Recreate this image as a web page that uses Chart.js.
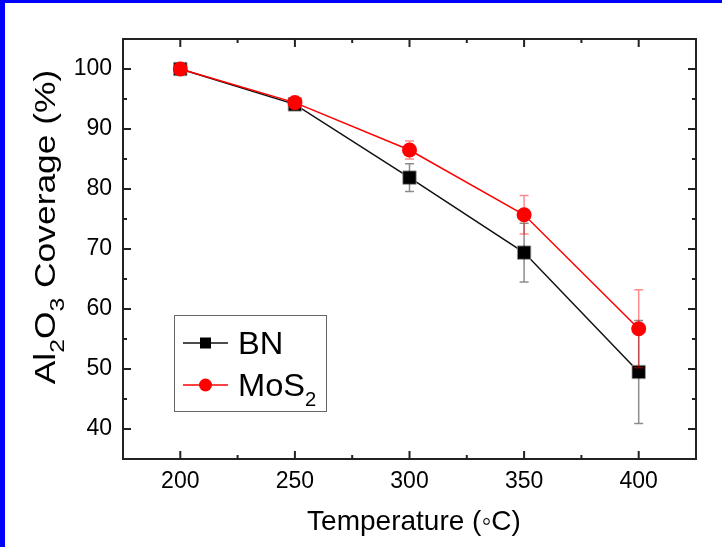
<!DOCTYPE html>
<html>
<head>
<meta charset="utf-8">
<script src="https://cdn.jsdelivr.net/npm/chart.js@4"></script>
<style>
  html, body { margin: 0; padding: 0; background: #fff; }
  #wrap { width: 722px; height: 547px; }
</style>
</head>
<body>
<div id="wrap"><canvas id="chart" width="722" height="547"></canvas></div>
<script>
// ================= DATA =================
const temps = [200, 250, 300, 350, 400];
const bnValues = [100, 94.1, 81.9, 69.4, 49.5];
const bnErrors = [0.3, 0.4, 2.3, 4.9, 8.6];
const mosValues = [100, 94.4, 86.5, 75.7, 56.7];
const mosErrors = [0.3, 0.4, 1.5, 3.2, 6.5];
const xTicks = [200, 250, 300, 350, 400];
const yTicks = [40, 50, 60, 70, 80, 90, 100];

const FONT = "'Liberation Sans', Arial, sans-serif";

// ================= HELPERS =================
// draw text pieces with optional subscripts, starting at (x, y) baseline
function drawRich(ctx, parts, x, y, size, sx, subScale) {
  const ss = subScale || 0.62;
  let cx = x;
  parts.forEach(p => {
    const s = p.sub ? size * ss : size;
    ctx.font = s + "px " + FONT;
    const dy = p.sub ? size * 0.3 : 0;
    ctx.save();
    ctx.translate(cx, y + dy);
    ctx.scale(sx, 1);
    ctx.fillText(p.t, 0, 0);
    ctx.restore();
    cx += ctx.measureText(p.t).width * sx;
  });
  return cx - x;
}
function richWidth(ctx, parts, size, sx, subScale) {
  const ss = subScale || 0.62;
  let w = 0;
  parts.forEach(p => {
    ctx.font = (p.sub ? size * ss : size) + "px " + FONT;
    w += ctx.measureText(p.t).width * sx;
  });
  return w;
}

// ================= ERROR BARS =================
const errorBars = {
  id: "errorBars",
  afterDatasetDraw(chart, args) {
    const ds = chart.data.datasets[args.index];
    const y = chart.scales.y;
    const ctx = chart.ctx;
    ctx.save();
    ctx.strokeStyle = ds.errorColor;
    ctx.lineWidth = 1.5;
    args.meta.data.forEach((pt, i) => {
      const v = ds.data[i].y;
      const e = ds.errors[i];
      const top = y.getPixelForValue(v + e);
      const bot = y.getPixelForValue(v - e);
      ctx.beginPath();
      ctx.moveTo(pt.x, top); ctx.lineTo(pt.x, bot);
      ctx.moveTo(pt.x - 4.5, top); ctx.lineTo(pt.x + 4.5, top);
      ctx.moveTo(pt.x - 4.5, bot); ctx.lineTo(pt.x + 4.5, bot);
      ctx.stroke();
    });
    ctx.restore();
  }
};

// ================= FRAME, TITLES, LEGEND =================
const frame = {
  id: "frame",
  beforeDraw(chart) {
    const ctx = chart.ctx;
    ctx.save();
    ctx.fillStyle = "#fff";
    ctx.fillRect(0, 0, chart.width, chart.height);
    ctx.fillStyle = "#0000ff";
    ctx.fillRect(0, 0, 5, chart.height);
    ctx.fillRect(0, 0, chart.width, 3);
    ctx.restore();
  },
  afterDraw(chart) {
    const ctx = chart.ctx;
    const a = chart.chartArea;
    const x = chart.scales.x, y = chart.scales.y;
    ctx.save();
    ctx.strokeStyle = "#222";
    ctx.lineWidth = 2;
    ctx.strokeRect(a.left, a.top, a.right - a.left, a.bottom - a.top);

    // inward ticks
    ctx.beginPath();
    for (let v = 175; v <= 425; v += 25) {
      const px = x.getPixelForValue(v);
      if (px <= a.left + 1 || px >= a.right - 1) continue;
      const len = v % 50 === 0 ? 8 : 4;
      ctx.moveTo(px, a.bottom); ctx.lineTo(px, a.bottom - len);
      ctx.moveTo(px, a.top); ctx.lineTo(px, a.top + len);
    }
    for (let v = 35; v <= 105; v += 5) {
      const py = y.getPixelForValue(v);
      if (py <= a.top + 1 || py >= a.bottom - 1) continue;
      const len = v % 10 === 0 ? 8 : 4;
      ctx.moveTo(a.left, py); ctx.lineTo(a.left + len, py);
      ctx.moveTo(a.right, py); ctx.lineTo(a.right - len, py);
    }
    ctx.stroke();

    ctx.fillStyle = "#000";
    ctx.textBaseline = "alphabetic";

    // x title
    const xt = [{ t: "Temperature (\u25E6C)" }];
    const xw = richWidth(ctx, xt, 28, 1);
    drawRich(ctx, xt, 414 - xw / 2, 530, 28, 1);

    // y title
    const yt = [{ t: "Al" }, { t: "2", sub: true }, { t: "O" }, { t: "3", sub: true }, { t: " Coverage (%)" }];
    const ys = 1.22;
    const yw = richWidth(ctx, yt, 29, ys, 0.7);
    ctx.save();
    ctx.translate(55, 227);
    ctx.rotate(-Math.PI / 2);
    drawRich(ctx, yt, -yw / 2, 0, 29, ys, 0.7);
    ctx.restore();

    // legend
    ctx.strokeStyle = "#666";
    ctx.lineWidth = 1;
    ctx.strokeRect(174.5, 315.5, 152, 96);
    const rows = [
      { ds: chart.data.datasets[0], y: 343, parts: [{ t: "BN" }] },
      { ds: chart.data.datasets[1], y: 385, parts: [{ t: "MoS" }, { t: "2", sub: true }] }
    ];
    rows.forEach(r => {
      ctx.strokeStyle = r.ds.borderColor;
      ctx.lineWidth = 1.5;
      ctx.beginPath();
      ctx.moveTo(183, r.y); ctx.lineTo(228, r.y);
      ctx.stroke();
      ctx.fillStyle = r.ds.backgroundColor;
      if (r.ds.pointStyle === "rect") {
        ctx.fillRect(200, r.y - 5.5, 11, 11);
      } else {
        ctx.beginPath();
        ctx.arc(205.5, r.y, 6.5, 0, Math.PI * 2);
        ctx.fill();
      }
      ctx.fillStyle = "#000";
      drawRich(ctx, r.parts, 238, r.y + 11, 32, 1.02);
    });
    ctx.restore();
  }
};

// ================= CHART =================
new Chart(document.getElementById("chart"), {
  type: "line",
  data: {
    labels: temps,
    datasets: [
      {
        label: "BN",
        data: bnValues,
        errors: bnErrors,
        errorColor: "rgba(0,0,0,0.45)",
        borderColor: "#111",
        backgroundColor: "#000",
        borderWidth: 1.5,
        pointStyle: "rect",
        pointRadius: 9.5,
        pointBorderColor: "rgba(160,160,160,0.8)",
        pointBorderWidth: 1,
        order: 2
      },
      {
        label: "MoS2",
        data: mosValues,
        errors: mosErrors,
        errorColor: "rgba(255,0,0,0.45)",
        borderColor: "#ff0000",
        backgroundColor: "#ff0000",
        borderWidth: 1.5,
        pointStyle: "circle",
        pointRadius: 7.5,
        pointBorderColor: "#ff0000",
        pointBorderWidth: 0,
        order: 1
      }
    ].map(d => ({ ...d, data: d.data.map((v, i) => ({ x: temps[i], y: v })) }))
  },
  options: {
    responsive: false,
    animation: false,
    events: [],
    layout: { padding: { left: 0, top: 39, right: 26, bottom: 0 } },
    plugins: { legend: { display: false }, tooltip: { enabled: false } },
    scales: {
      x: {
        type: "linear",
        min: 175,
        max: 425,
        grid: { display: false, drawTicks: false },
        border: { display: false },
        afterBuildTicks: s => { s.ticks = xTicks.map(v => ({ value: v })); },
        afterFit: s => { s.height = 88; },
        ticks: { color: "#000", padding: 9, font: { family: FONT, size: 23 } }
      },
      y: {
        min: 35,
        max: 105,
        grid: { display: false, drawTicks: false },
        border: { display: false },
        afterBuildTicks: s => { s.ticks = yTicks.map(v => ({ value: v })); },
        afterFit: s => { s.width = 123; },
        ticks: { color: "#000", padding: 11, font: { family: FONT, size: 23 } }
      }
    }
  },
  plugins: [frame, errorBars]
});
</script>
</body>
</html>
